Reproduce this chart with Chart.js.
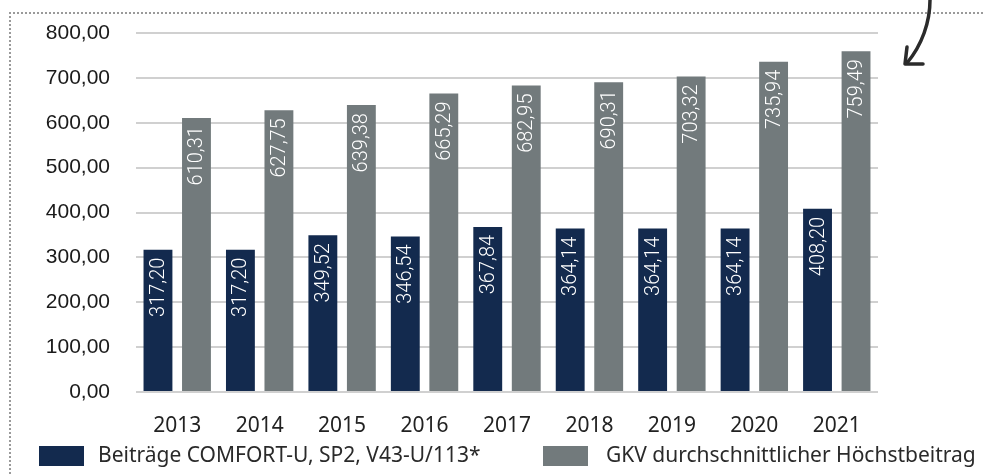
<!DOCTYPE html>
<html>
<head>
<meta charset="utf-8">
<script src="https://cdn.jsdelivr.net/npm/chart.js@4/dist/chart.umd.min.js"></script>
<style>
  html, body { margin: 0; padding: 0; background: #fff; overflow: hidden; }
  #wrap { position: relative; width: 984px; height: 475px; }
  #frame {
    position: absolute; left: 9px; top: 12px; width: 1100px; height: 600px;
    border-top: 2px dotted #9a9a9a; border-left: 2px dotted #9a9a9a;
  }
  #arrow { position: absolute; left: 0; top: 0; }
  canvas { position: absolute; left: 0; top: 0; }
</style>
</head>
<body>
<div id="wrap">
  <div id="frame"></div>
  <canvas id="chart" width="984" height="475"></canvas>
  <svg id="arrow" width="984" height="475">
    <path d="M930,0 C930,22 922,45 907,63" fill="none" stroke="#2b2b2b" stroke-width="3.5" stroke-linecap="round"/>
    <path d="M907,47 L905,64 L923,64" fill="none" stroke="#2b2b2b" stroke-width="3.5" stroke-linecap="round" stroke-linejoin="round"/>
  </svg>
</div>
<script>
// --- Data ---
const years = ['2013', '2014', '2015', '2016', '2017', '2018', '2019', '2020', '2021'];
const comfortValues = [317.20, 317.20, 349.52, 346.54, 367.84, 364.14, 364.14, 364.14, 408.20];
const gkvValues = [610.31, 627.75, 639.38, 665.29, 682.95, 690.31, 703.32, 735.94, 759.49];
const seriesNames = ['Beiträge COMFORT-U, SP2, V43-U/113*', 'GKV durchschnittlicher Höchstbeitrag'];
const yTicks = [0, 100, 200, 300, 400, 500, 600, 700, 800];

const NAVY = '#132a4e';
const GRAY = '#727a7c';

const fmt = v => v.toFixed(2).replace('.', ',');

// values written vertically inside the bars
const barLabels = {
    id: 'barLabels',
    afterDatasetsDraw(chart) {
        const ctx = chart.ctx;
        ctx.save();
        ctx.fillStyle = '#ffffff';
        ctx.font = '300 20px Roboto';
        ctx.textAlign = 'right';
        ctx.textBaseline = 'middle';
        chart.data.datasets.forEach((ds, di) => {
            chart.getDatasetMeta(di).data.forEach((bar, i) => {
                ctx.save();
                ctx.translate(bar.x + 1, bar.y + 8);
                ctx.rotate(-Math.PI / 2);
                ctx.fillText(fmt(ds.data[i]), 0, 0);
                ctx.restore();
            });
        });
        ctx.restore();
    }
};

// legend along the bottom edge
const bottomLegend = {
    id: 'bottomLegend',
    afterDraw(chart) {
        const ctx = chart.ctx;
        const spots = [{ box: 39, text: 98 }, { box: 543, text: 606 }];
        ctx.save();
        ctx.font = '21px "Noto Sans"';
        ctx.textBaseline = 'middle';
        chart.data.datasets.forEach((ds, i) => {
            ctx.fillStyle = ds.backgroundColor;
            ctx.fillRect(spots[i].box, 446, 45, 20);
            ctx.fillStyle = '#2a2a2a';
            ctx.fillText(ds.label, spots[i].text, 456);
        });
        ctx.restore();
    }
};

const ctx = document.getElementById('chart').getContext('2d');
new Chart(ctx, {
    type: 'bar',
    data: {
        labels: years,
        datasets: [
            { label: seriesNames[0], data: comfortValues, backgroundColor: NAVY },
            { label: seriesNames[1], data: gkvValues, backgroundColor: GRAY }
        ]
    },
    options: {
        responsive: false,
        animation: false,
        layout: { padding: { top: 33, right: 106, left: 0, bottom: 0 } },
        datasets: { bar: { categoryPercentage: 0.934, barPercentage: 0.75 } },
        scales: {
            x: {
                grid: { display: false },
                border: { display: false },
                ticks: { color: '#222', font: { family: 'Noto Sans', size: 21 }, padding: 13 },
                afterFit: s => { s.height = 83; }
            },
            y: {
                min: 0, max: 800,
                afterBuildTicks: s => { s.ticks = yTicks.map(v => ({ value: v })); },
                grid: { color: '#d0d0d0', lineWidth: 2, drawTicks: false },
                border: { display: false },
                ticks: {
                    color: '#1a1a1a', padding: 26,
                    font: { family: 'Liberation Sans', size: 21 },
                    callback: v => fmt(v)
                },
                // fixed axis width; drop the extra top padding chart.js adds
                afterFit: s => { s.width = 136; s.paddingTop = 0; }
            }
        },
        plugins: { legend: { display: false }, tooltip: { enabled: false } }
    },
    plugins: [barLabels, bottomLegend]
});
</script>
</body>
</html>
